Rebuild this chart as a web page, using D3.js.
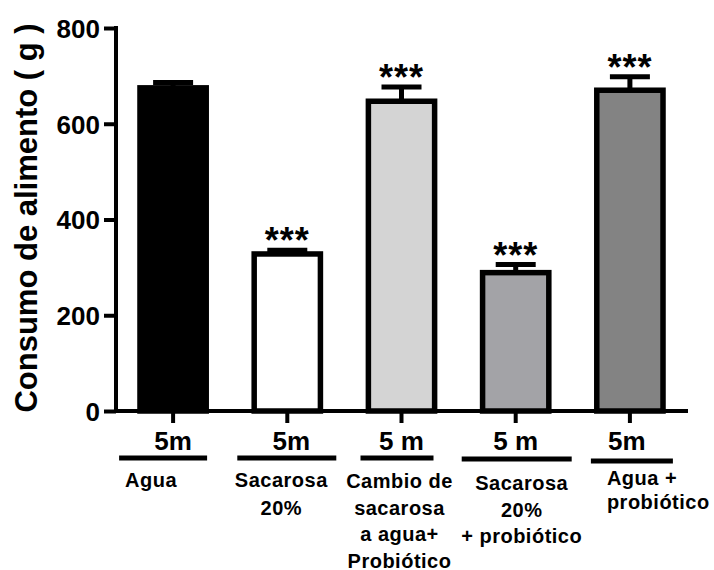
<!DOCTYPE html>
<html>
<head>
<meta charset="utf-8">
<script src="https://cdn.jsdelivr.net/npm/d3@7"></script>
<style>
  body { margin: 0; background: #fff; }
  svg text { font-family: "Liberation Sans", Arial, sans-serif; font-weight: bold; fill: #000; }
</style>
</head>
<body>
<svg id="chart" width="714" height="570"></svg>
<script>
// Food consumption per group (g), mean and error bar
const categories = ["Agua", "Sacarosa 20%", "Cambio de sacarosa a agua+ Probiótico", "Sacarosa 20% + probiótico", "Agua + probiótico"];
const labelLines = [["Agua"], ["Sacarosa", "20%"], ["Cambio de", "sacarosa", "a agua+", "Probiótico"], ["Sacarosa", "20%", "+ probiótico"], ["Agua +", "probiótico"]];
const durations = ["5m", "5m", "5 m", "5 m", "5m"];
const means = [675, 328, 647, 289, 670];
const errors = [11, 8, 30, 17, 28];
const significance = ["", "***", "***", "***", "***"];
const yTicks = [0, 200, 400, 600, 800];
const fills = ["#000000", "#ffffff", "#d4d4d4", "#a3a3a7", "#838383"];

const svg = d3.select("#chart");

const x = d3.scaleBand()
  .domain(categories)
  .range([116, 687])
  .paddingInner(0.42)
  .paddingOuter(0.21);

const y = d3.scaleLinear().domain([0, 800]).range([411, 28]);

const cx = c => x(c) + x.bandwidth() / 2;

const rows = categories.map((c, i) => ({
  cat: c, mean: means[i], err: errors[i], fill: fills[i],
  sig: significance[i], dur: durations[i], lines: labelLines[i]
}));

// Bars
svg.append("g").selectAll("rect")
  .data(rows)
  .join("rect")
  .attr("x", d => x(d.cat))
  .attr("y", d => y(d.mean))
  .attr("width", x.bandwidth())
  .attr("height", d => y(0) - y(d.mean))
  .attr("fill", d => d.fill)
  .attr("stroke", "#000")
  .attr("stroke-width", 5.5);

// Error bars (upper only)
const eb = svg.append("g").attr("stroke", "#000").attr("stroke-width", 5);
eb.selectAll("line.stem")
  .data(rows)
  .join("line")
  .attr("class", "stem")
  .attr("x1", d => cx(d.cat)).attr("x2", d => cx(d.cat))
  .attr("y1", d => y(d.mean)).attr("y2", d => y(d.mean + d.err));
eb.selectAll("line.cap")
  .data(rows)
  .join("line")
  .attr("class", "cap")
  .attr("x1", d => cx(d.cat) - 20).attr("x2", d => cx(d.cat) + 20)
  .attr("y1", d => y(d.mean + d.err)).attr("y2", d => y(d.mean + d.err));

// Significance stars
svg.append("g").selectAll("text")
  .data(rows.filter(d => d.sig))
  .join("text")
  .attr("x", d => cx(d.cat))
  .attr("y", d => y(d.mean + d.err) + 3)
  .attr("text-anchor", "middle")
  .attr("font-size", 36)
  .attr("letter-spacing", 1)
  .text(d => d.sig);

// Y axis
const yAxis = d3.axisLeft(y)
  .tickValues(yTicks)
  .tickFormat(d3.format("d"))
  .tickSize(12)
  .tickSizeOuter(0)
  .tickPadding(4);
const gy = svg.append("g").attr("transform", "translate(116,0)").call(yAxis);
gy.select(".domain").attr("stroke-width", 4).attr("d", `M0,${y(800) - 2}V${y(0) + 2}`);
gy.selectAll(".tick line").attr("stroke-width", 4);
gy.selectAll(".tick text")
  .attr("font-size", 26)
  .attr("font-family", "Liberation Sans, Arial, sans-serif")
  .attr("font-weight", "bold")
  .attr("dy", "0.36em");

// X axis
const xAxis = d3.axisBottom(x).tickSize(12).tickSizeOuter(0).tickFormat("");
const gx = svg.append("g").attr("transform", `translate(0,${y(0)})`).call(xAxis);
gx.select(".domain").attr("stroke-width", 4).attr("d", "M114,0H688");
gx.selectAll(".tick line").attr("stroke-width", 4);

// Y axis title
svg.append("text")
  .attr("transform", `translate(37,218) rotate(-90)`)
  .attr("text-anchor", "middle")
  .attr("font-size", 31)
  .text("Consumo de alimento ( g )");

// Duration labels with underline, and group names beneath
const labelLayout = [
  { dur: 0,  u1: -54, u2: 34, uy: 458, anchor: "start",  dx: -48, y0: 487, lh: 28 },
  { dur: 4,  u1: -50, u2: 49, uy: 458, anchor: "middle", dx: -6,  y0: 487, lh: 28 },
  { dur: 0,  u1: -41, u2: 32, uy: 458, anchor: "middle", dx: -2,  y0: 488, lh: 26.5 },
  { dur: 0,  u1: -54, u2: 56, uy: 459, anchor: "middle", dx: 6,   y0: 490, lh: 26.5 },
  { dur: -3, u1: -39, u2: 43, uy: 461, anchor: "start",  dx: -23, y0: 485, lh: 24 }
];

const lab = svg.append("g");
rows.forEach((d, i) => {
  const L = labelLayout[i];
  const c = cx(d.cat);
  lab.append("text")
    .attr("x", c + L.dur)
    .attr("y", 450)
    .attr("text-anchor", "middle")
    .attr("font-size", 26)
    .text(d.dur);
  lab.append("line")
    .attr("x1", c + L.u1).attr("x2", c + L.u2)
    .attr("y1", L.uy).attr("y2", L.uy)
    .attr("stroke", "#000").attr("stroke-width", 5);
  const t = lab.append("text")
    .attr("text-anchor", L.anchor)
    .attr("font-size", 20)
    .attr("letter-spacing", 0.5);
  d.lines.forEach((line, k) => {
    t.append("tspan")
      .attr("x", c + L.dx)
      .attr("y", L.y0 + k * L.lh)
      .text(line);
  });
});
</script>
</body>
</html>
